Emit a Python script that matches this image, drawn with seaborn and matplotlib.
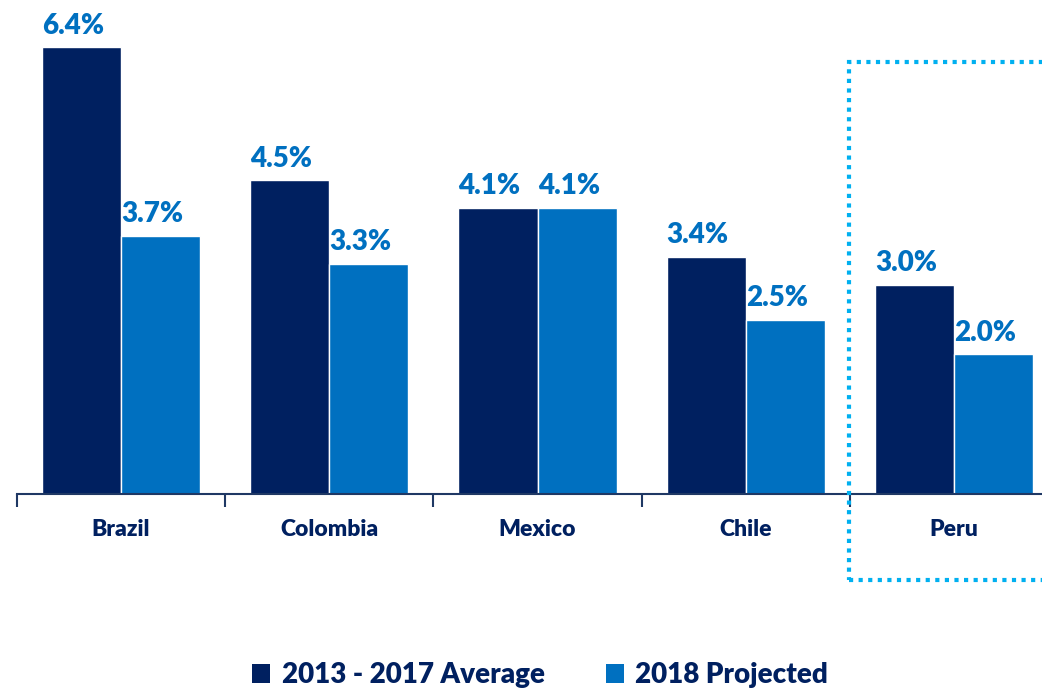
import matplotlib
matplotlib.use("Agg")
import matplotlib.pyplot as plt
import seaborn as sns
import pandas as pd
import numpy as np
from matplotlib.patches import Rectangle, Patch

countries = ["Brazil", "Colombia", "Mexico", "Chile", "Peru"]
avg_2013_2017 = [6.4, 4.5, 4.1, 3.4, 3.0]
proj_2018 = [3.7, 3.3, 4.1, 2.5, 2.0]
series_names = ["2013 - 2017 Average", "2018 Projected"]

NAVY = "#002060"
BLUE = "#0070C0"
LIGHT = "#00B0F0"

df = pd.DataFrame({
    "country": countries * 2,
    "series": [series_names[0]] * 5 + [series_names[1]] * 5,
    "value": avg_2013_2017 + proj_2018,
})

sns.set_theme(style="white")
plt.rcParams["font.family"] = ["Lato", "DejaVu Sans"]

W, H = 1042, 691
fig = plt.figure(figsize=(W / 100, H / 100), dpi=100)
x0, x1 = 17, 1058
ytop, ybase = 5.4, 494
ax = fig.add_axes([x0 / W, (H - ybase) / H, (x1 - x0) / W, (ybase - ytop) / H])

sns.barplot(data=df, x="country", y="value", hue="series", order=countries,
            hue_order=series_names, palette=[NAVY, BLUE], width=0.76, gap=0,
            ax=ax, legend=False, errorbar=None, saturation=1)

for cont in ax.containers:
    labels = [f"{v:.1f}%" for v in cont.datavalues]
    anns = ax.bar_label(cont, labels=labels, padding=6, color=BLUE, fontsize=20,
                        fontweight="heavy")
    for a in anns:
        a.xyann = (-6, 6)

ax.set_xlim(-0.5, 4.5)
ax.set_ylim(0, 7)
ax.set_xlabel("")
ax.set_ylabel("")
ax.set_yticks([])
for s in ["top", "right", "left"]:
    ax.spines[s].set_visible(False)
ax.spines["bottom"].set_color("#1F3864")
ax.spines["bottom"].set_linewidth(1.5)
ax.set_xticks(range(len(countries)))
ax.set_xticklabels(countries, fontsize=16.5, fontweight="heavy", color=NAVY)
ax.tick_params(axis="x", which="major", length=0, pad=18)
ax.set_xticks(np.arange(-0.5, 5, 1), minor=True)
ax.tick_params(axis="x", which="minor", length=9, width=1.5,
               color="#1F3864", direction="out", bottom=True)

# dotted highlight box around Peru
rect = Rectangle((849, H - 580), 260, 518, transform=None, fill=False,
                 edgecolor=LIGHT, linestyle=(0, (1, 1.3)), linewidth=3)
fig.patches.append(rect)

handles = [Patch(facecolor=NAVY, edgecolor="none"),
           Patch(facecolor=BLUE, edgecolor="none")]
leg = fig.legend(handles, series_names, loc="center", ncol=2,
                 bbox_to_anchor=(540 / W, (H - 675) / H), frameon=False,
                 prop={"size": 20, "weight": "heavy"}, handlelength=0.65,
                 handleheight=0.65, handletextpad=0.4, columnspacing=2.2)
for t in leg.get_texts():
    t.set_color(NAVY)

fig.savefig("out.png", dpi=100)
